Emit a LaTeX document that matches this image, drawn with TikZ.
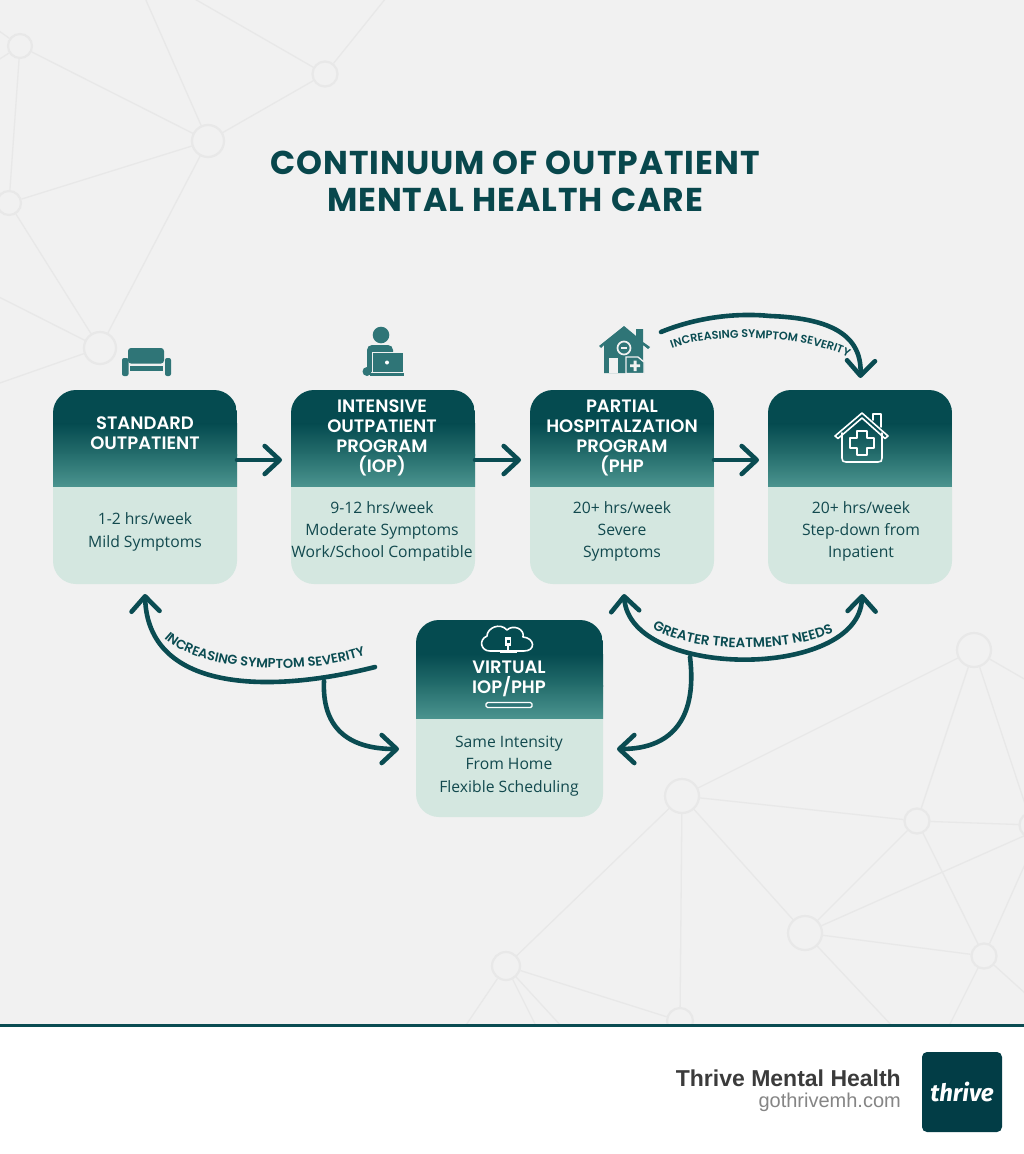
\documentclass[tikz,border=0pt]{standalone}
\usepackage{fontspec}
\usetikzlibrary{arrows.meta,decorations.text}
\setmainfont{Lato}
\newfontfamily\popb{Poppins}[BoldFont=Poppins Bold]
\newfontfamily\popsb{Poppins SemiBold}
\newfontfamily\bodyf{Open Sans}
\newfontfamily\footf{Liberation Sans}
\newfontfamily\logof{Fira Sans}
\definecolor{bgc}{HTML}{F1F1F1}
\definecolor{netc}{HTML}{E8E8E8}
\definecolor{dk}{HTML}{0A4C52}
\definecolor{titlec}{HTML}{08474C}
\definecolor{bodyc}{HTML}{D4E7E0}
\definecolor{bodyt}{HTML}{12494E}
\definecolor{iconc}{HTML}{2F7577}
\definecolor{logoc}{HTML}{023D46}
\definecolor{hA}{HTML}{4A938E}
\definecolor{hM}{HTML}{256E6D}
\definecolor{hC}{HTML}{054B50}
\tikzset{
  netnode/.style={circle,draw=netc,line width=2.2pt,fill=bgc,inner sep=0pt,minimum size=#1},
  netline/.style={draw=netc,line width=1.3pt},
  card/.style 2 args={rectangle,rounded corners=23pt,fill=bodyc,inner sep=0pt,outer sep=0pt,
    minimum width=#1,minimum height=#2},
  hdrh/.style={path picture={
    \fill[hC,sharp corners] (path picture bounding box.north west) rectangle ([yshift=-0.36*#1]path picture bounding box.north east);
    \shade[top color=hC,bottom color=hM,sharp corners] ([yshift=-0.35*#1]path picture bounding box.north west) rectangle ([yshift=-0.68*#1]path picture bounding box.north east);
    \shade[top color=hM,bottom color=hA,sharp corners] ([yshift=-0.67*#1]path picture bounding box.north west) rectangle ([yshift=-#1]path picture bounding box.north east);}},
  head/.style={text=white,align=center,inner sep=0pt,font=\popsb\fontsize{18}{20}\selectfont},
  bodytext/.style={text=bodyt,align=center,inner sep=0pt,font=\bodyf\fontsize{15.7}{22}\selectfont},
  arr/.style={draw=dk,line width=4.6pt,line cap=round,line join=round,
    -{Straight Barb[length=15pt,width=28pt,round]}},
  arrb/.style={draw=dk,line width=4.6pt,line cap=round,line join=round,
    {Straight Barb[length=15pt,width=28pt,round]}-{Straight Barb[length=15pt,width=28pt,round]}},
  wline/.style={draw=white,line width=1.6pt,line join=round,line cap=round}
}
\begin{document}
\begin{tikzpicture}[x=1pt,y=-1pt]
\useasboundingbox (0,0) rectangle (1024,1154);
\fill[bgc] (0,0) rectangle (1024,1154);

% background network
\foreach \n/\x/\y/\s in {a/20/46/24,b/325/74/25,c/208/141/32,d/9/203/24,e/100/348/32,
  n1/974/650/34,n2/682/796/34,n3/917/821/25,n4/805/933/34,n5/984/956/25,n6/506/966/28,n7/680/1021/26,r/1032/825/25}
  \node[netnode=\s pt] (\n) at (\x,\y) {};
\foreach \n/\x/\y in {fa/-5/28,fb/-5/62,fc/145/-2,fd/193/-2,ff/386/-2,fg/-3/190,fh/-3/296,fi/-3/384,
  fj/1026/680,fk/1026/994,fl/894/1028,fm/948/1028,fo/464/1028,fp/537/1028,fq/563/1028,fr/1026/862,fs/1026/835}
  \coordinate (\n) at (\x,\y);
\foreach \p/\q in {a/c,a/d,a/fa,a/fb,b/c,b/fd,b/ff,c/fc,c/d,c/e,d/e,d/fg,e/fh,e/fi,
  n1/n2,n1/n3,n1/r,n1/fj,n2/n3,n2/n4,n2/n6,n2/n7,n3/r,n3/n4,n3/n5,n4/fs,n4/n5,n4/fl,n5/fm,n5/fk,n5/fr,
  n6/n7,n6/fo,n6/fp,n6/fq}
  \draw[netline] (\p) -- (\q);

% title
\node[text=titlec,align=center,inner sep=0pt,font=\popb\bfseries\fontsize{33}{37}\selectfont\addfontfeature{LetterSpace=3}] (title) at (515,181)
  {CONTINUUM OF OUTPATIENT\\MENTAL HEALTH CARE};

% cards
\node[card={184pt}{194pt},hdrh=96pt] (c1) at (145,487) {};
\node[card={184pt}{194pt},hdrh=96pt] (c2) at (383,487) {};
\node[card={184pt}{194pt},hdrh=96pt] (c3) at (622,487) {};
\node[card={184pt}{194pt},hdrh=96pt] (c4) at (860,487) {};
\node[card={187pt}{197pt},hdrh=98pt] (v) at (509.5,718.5) {};

\node[head] (h1) at (145,433) {STANDARD\\OUTPATIENT};
\node[head] (h2) at (382,438) {INTENSIVE\\OUTPATIENT\\PROGRAM\\(IOP)};
\node[head] (h3) at (622,438) {PARTIAL\\HOSPITALZATION\\PROGRAM\\(PHP};
\node[head] (h5) at (509,679) {VIRTUAL\\IOP/PHP};

\node[bodytext,font=\bodyf\fontsize{15.7}{23}\selectfont] (b1) at (145,532) {1-2 hrs/week\\Mild Symptoms};
\node[bodytext] (b2) at (382,531) {9-12 hrs/week\\Moderate Symptoms\\Work/School Compatible};
\node[bodytext] (b3) at (622,531) {20+ hrs/week\\Severe\\Symptoms};
\node[bodytext] (b4) at (861,531) {20+ hrs/week\\Step-down from\\Inpatient};
\node[bodytext,font=\bodyf\fontsize{15.7}{22.5}\selectfont] (b5) at (509,766) {Same Intensity\\From Home\\Flexible Scheduling};

% icon in card 4
\draw[wline] (835,436) -- (862,413) -- (888,436) -- (885,438.5) -- (862,418) -- (838,438.5) -- cycle;
\draw[wline] (842,433) -- (842,458) .. controls (842,461) and (843,462) .. (846,462) -- (878,462) .. controls (881,462) and (882,461) .. (882,458) -- (882,433);
\draw[wline] (873,420) -- (873,414) -- (881,414) -- (881,427);
\draw[wline] (857,431) -- (867,431) -- (867,438) -- (874,438) -- (874,448) -- (867,448) -- (867,455) -- (857,455) -- (857,448) -- (850,448) -- (850,438) -- (857,438) -- cycle;

% cloud icon
\draw[wline] (490,651) .. controls (481,651) and (478,640) .. (487,636)
  .. controls (487,628) and (500,622) .. (507,630)
  .. controls (513,624) and (525,629) .. (523,637)
  .. controls (535,638) and (536,651) .. (524,651) -- cycle;
\fill[white] (505,637) rectangle (511,646);
\fill[dk] (506.5,640) rectangle (509.5,643);
\draw[white,line width=1.2pt] (508,646) -- (508,651) (500,652.5) -- (517,652.5);
\draw[white,line width=1.4pt,rounded corners=1.5pt,fill=iconc] (486,702.5) rectangle (532,707.5);

% sofa
\fill[iconc,rounded corners=3pt] (128,348) rectangle (164,363.5);
\fill[iconc] (130,366) rectangle (163,370.5);
\fill[iconc,rounded corners=2pt] (122,358) rectangle (128.5,376);
\fill[iconc,rounded corners=2pt] (165,358) rectangle (171,376);

% person with laptop
\fill[iconc] (381,335) circle (8.3);
\fill[iconc,rounded corners=5pt] (367,372) -- (367,345) -- (393,345) -- (393,372) -- cycle;
\fill[iconc] (367,371.5) circle (4.5);
\draw[bgc,line width=1pt,fill=iconc] (372,352) rectangle (403,372);
\fill[white] (387,362.5) circle (2);
\fill[iconc] (370,373) rectangle (404,375.5);

% house with badge
\fill[iconc] (599,346) -- (624,326) -- (636,336) -- (636,329) -- (643,329) -- (643,342) -- (650,347) -- (648,349) -- (643,345) -- (643,373) -- (604,373) -- (604,345) -- (601,348) -- cycle;
\fill[bgc] (609,358) rectangle (618,373);
\draw[bgc,line width=1.7pt] (624,348) circle (6.5);
\fill[bgc] (621,347.4) rectangle (627,348.6);
\draw[bgc,line width=1.3pt,fill=iconc] (626,373.5) -- (626,357) -- (638,357) -- (644,362) -- (644,373.5) -- cycle;
\fill[bgc] (633.5,360.5) rectangle (636.5,371) (630,364.3) rectangle (640,367.2);

% connectors
\draw[arr,shorten >=9pt] ([yshift=27pt]c1.east) -- ([yshift=27pt]c2.west);
\draw[arr,shorten >=9pt] ([yshift=27pt]c2.east) -- ([yshift=27pt]c3.west);
\draw[arr,shorten >=9pt] ([yshift=27pt]c3.east) -- ([yshift=27pt]c4.west);

\coordinate (topstart) at (661,332);
\coordinate (topmid) at (770,316);
\draw[arr,shorten >=12pt] (topstart) .. controls (700,316) and (740,313) .. (topmid) .. controls (825,318) and (862,332) .. (c4.north);

\coordinate (lstart) at (375,667);
\coordinate (ltip) at (145,594);
\draw[arr] (lstart) .. controls (265,695) and (148,690) .. (ltip);
\coordinate (lbranch) at (324,681);
\draw[arr,shorten >=17pt] (lbranch) .. controls (322,725) and (345,749) .. ([yshift=-30.5pt]v.west);

\coordinate (rl) at (624,594);
\coordinate (rr) at (862,594);
\draw[arrb] (rl) .. controls (630,680) and (860,680) .. (rr);
\coordinate (rbranch) at (690,657);
\draw[arr,shorten >=14pt] (rbranch) .. controls (697,715) and (675,749) .. ([yshift=-30.5pt]v.east);

% curved labels
\path[decorate,decoration={text along path,text color=dk,text align=center,
  text={|\popsb\fontsize{11.2}{12}\selectfont|INCREASING SYMPTOM SEVERITY}}]
  (670,349) .. controls (710,333) and (800,333) .. (850,358);
\path[decorate,decoration={text along path,text color=dk,text align=center,
  text={|\popsb\fontsize{13}{13}\selectfont|INCREASING SYMPTOM SEVERITY}}]
  (163,637) .. controls (195,670) and (300,678) .. (367,655);
\path[decorate,decoration={text along path,text color=dk,text align=center,
  text={|\popsb\fontsize{13.5}{14}\selectfont|GREATER TREATMENT NEEDS}}]
  (650,627) .. controls (690,654) and (790,654) .. (836,631);

% footer
\fill[white] (0,1026) rectangle (1024,1154);
\fill[dk] (0,1024) rectangle (1024,1027);
\node[anchor=base east,inner sep=0pt,text=black!77,font=\footf\bfseries\fontsize{23}{24}\selectfont] (ft1) at (901,1086) {Thrive Mental Health};
\node[anchor=base east,inner sep=0pt,text=black!48,font=\footf\fontsize{20}{20}\selectfont] (ft2) at (901,1107) {gothrivemh.com};
\node[rectangle,rounded corners=5pt,fill=logoc,minimum size=80pt,inner sep=0pt,text=white,
  font=\logof\bfseries\itshape\fontsize{24}{25}\selectfont] (logo) at (962,1092) {thrive};
\end{tikzpicture}
\end{document}
